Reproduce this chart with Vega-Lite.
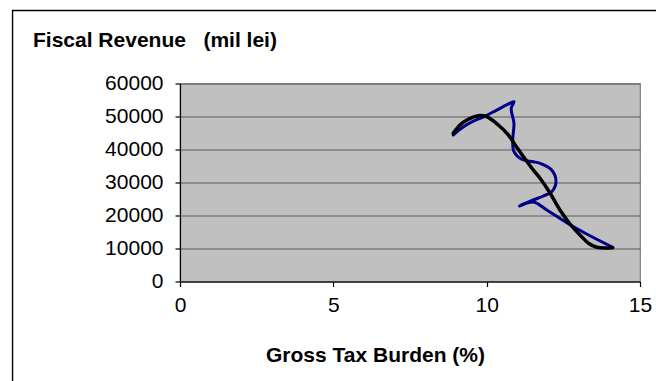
{
  "$schema": "https://vega.github.io/schema/vega-lite/v6.json",
  "width": 460,
  "height": 198,
  "autosize": {"type": "none"},
  "padding": {"left": 180, "top": 83.5, "right": 16, "bottom": 99.5},
  "background": "white",
  "title": {
    "text": "Fiscal Revenue \u00a0\u00a0(mil lei)",
    "anchor": "start",
    "frame": "group",
    "dx": -147,
    "dy": 41,
    "offset": 0,
    "font": "Liberation Sans",
    "fontSize": 21,
    "fontWeight": "bold",
    "color": "black"
  },
  "datasets": {
    "revenue": [
      {"step": 1, "burden": 14.11, "revenue": 10360},
      {"step": 2, "burden": 13.26, "revenue": 14390},
      {"step": 3, "burden": 12.61, "revenue": 17820},
      {"step": 4, "burden": 11.96, "revenue": 21670},
      {"step": 5, "burden": 11.52, "revenue": 24090},
      {"step": 6, "burden": 11.07, "revenue": 22880},
      {"step": 7, "burden": 11.52, "revenue": 24700},
      {"step": 8, "burden": 11.85, "revenue": 25910},
      {"step": 9, "burden": 12.12, "revenue": 27220},
      {"step": 10, "burden": 12.26, "revenue": 30250},
      {"step": 11, "burden": 12.12, "revenue": 33790},
      {"step": 12, "burden": 11.74, "revenue": 35810},
      {"step": 13, "burden": 11.52, "revenue": 36300},
      {"step": 14, "burden": 11.14, "revenue": 37030},
      {"step": 15, "burden": 10.89, "revenue": 39330},
      {"step": 16, "burden": 10.85, "revenue": 42880},
      {"step": 17, "burden": 10.89, "revenue": 47940},
      {"step": 18, "burden": 10.8, "revenue": 52480},
      {"step": 19, "burden": 10.89, "revenue": 54490},
      {"step": 20, "burden": 10.65, "revenue": 53500},
      {"step": 21, "burden": 10.3, "revenue": 51800},
      {"step": 22, "burden": 9.9, "revenue": 49900},
      {"step": 23, "burden": 9.5, "revenue": 48300},
      {"step": 24, "burden": 9.2, "revenue": 46600},
      {"step": 25, "burden": 8.91, "revenue": 44390}
    ],
    "trend": [
      {"step": 1, "burden": 8.91, "revenue": 44910},
      {"step": 2, "burden": 9.13, "revenue": 47420},
      {"step": 3, "burden": 9.4, "revenue": 49150},
      {"step": 4, "burden": 9.73, "revenue": 50240},
      {"step": 5, "burden": 10.0, "revenue": 49940},
      {"step": 6, "burden": 10.38, "revenue": 47420},
      {"step": 7, "burden": 10.71, "revenue": 44390},
      {"step": 8, "burden": 10.93, "revenue": 41360},
      {"step": 9, "burden": 11.2, "revenue": 37820},
      {"step": 10, "burden": 11.52, "revenue": 33790},
      {"step": 11, "burden": 11.74, "revenue": 31270},
      {"step": 12, "burden": 12.07, "revenue": 26730},
      {"step": 13, "burden": 12.39, "revenue": 21670},
      {"step": 14, "burden": 12.77, "revenue": 16820},
      {"step": 15, "burden": 13.1, "revenue": 13580},
      {"step": 16, "burden": 13.32, "revenue": 11580},
      {"step": 17, "burden": 13.59, "revenue": 10360},
      {"step": 18, "burden": 14.11, "revenue": 10240}
    ]
  },
  "layer": [
    {
      "data": {"values": [{}]},
      "mark": {"type": "rect", "filled": false, "stroke": "black", "strokeWidth": 1.4},
      "encoding": {
        "x": {"datum": -5.46, "type": "quantitative", "scale": {"domain": [0, 15], "nice": false, "zero": false}, "axis": {"title": "Gross Tax Burden (%)", "values": [0, 5, 10, 15]}},
        "x2": {"datum": 16.5},
        "y": {"datum": 82121, "type": "quantitative", "scale": {"domain": [0, 60000], "nice": false, "zero": false}, "axis": {"title": null, "values": [0, 10000, 20000, 30000, 40000, 50000, 60000]}},
        "y2": {"datum": -36000}
      }
    },
    {
      "data": {"name": "revenue"},
      "mark": {"type": "line", "interpolate": "catmull-rom", "color": "#000088", "strokeWidth": 3, "strokeJoin": "round", "strokeCap": "round"},
      "encoding": {
        "x": {"field": "burden", "type": "quantitative", "scale": {"domain": [0, 15], "nice": false, "zero": false}, "axis": {"title": "Gross Tax Burden (%)", "values": [0, 5, 10, 15]}},
        "y": {"field": "revenue", "type": "quantitative", "scale": {"domain": [0, 60000], "nice": false, "zero": false}, "axis": {"title": null, "values": [0, 10000, 20000, 30000, 40000, 50000, 60000]}},
        "order": {"field": "step", "type": "quantitative"}
      }
    },
    {
      "data": {"name": "trend"},
      "mark": {"type": "line", "interpolate": "catmull-rom", "color": "black", "strokeWidth": 3.5, "strokeJoin": "round", "strokeCap": "round"},
      "encoding": {
        "x": {"field": "burden", "type": "quantitative", "scale": {"domain": [0, 15], "nice": false, "zero": false}, "axis": {"title": "Gross Tax Burden (%)", "values": [0, 5, 10, 15]}},
        "y": {"field": "revenue", "type": "quantitative", "scale": {"domain": [0, 60000], "nice": false, "zero": false}, "axis": {"title": null, "values": [0, 10000, 20000, 30000, 40000, 50000, 60000]}},
        "order": {"field": "step", "type": "quantitative"}
      }
    }
  ],
  "config": {
    "view": {"fill": "#c0c0c0", "stroke": "#808080", "strokeWidth": 1.2},
    "axis": {
      "labelFont": "Liberation Sans",
      "labelFontSize": 21,
      "labelColor": "black",
      "titleFont": "Liberation Sans",
      "titleFontSize": 21,
      "titleFontWeight": "bold",
      "titleColor": "black",
      "domainColor": "black",
      "domainWidth": 1.2,
      "tickColor": "black",
      "tickSize": 5,
      "tickWidth": 1.2,
      "labelFlush": false,
      "labelOverlap": false
    },
    "axisX": {
      "grid": false,
      "labelPadding": 24.5,
      "labelBaseline": "alphabetic",
      "titleX": 195,
      "titleY": 79.5,
      "titleBaseline": "alphabetic",
      "titleAlign": "center"
    },
    "axisY": {
      "grid": true,
      "gridColor": "#5c5c5c",
      "gridWidth": 1.2,
      "format": "d",
      "labelPadding": 12,
      "labelBaseline": "middle"
    }
  }
}
